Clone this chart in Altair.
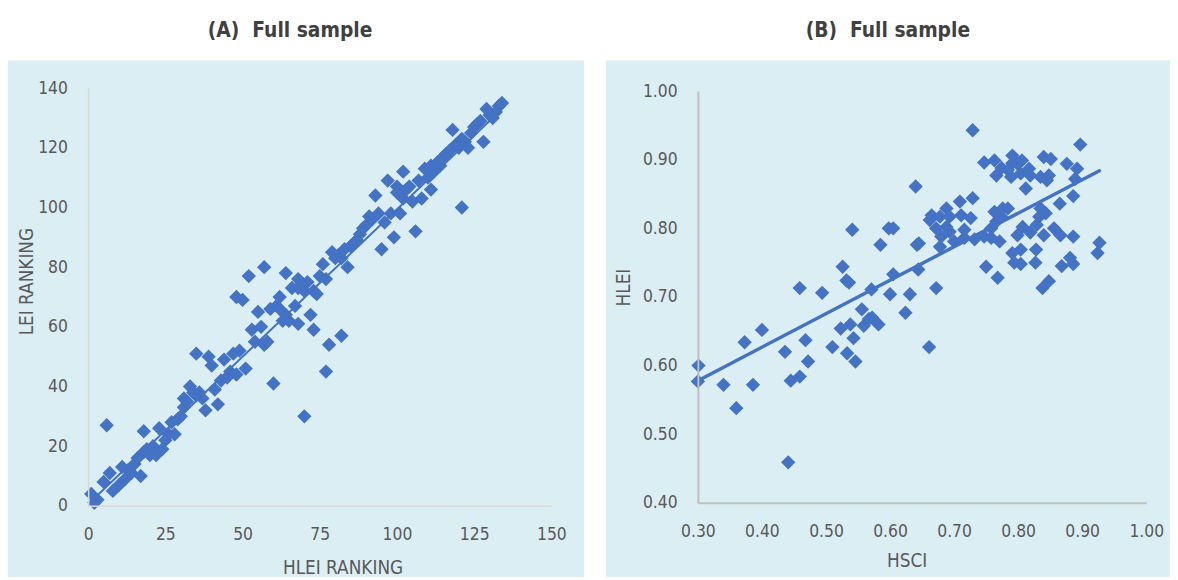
import altair as alt
import pandas as pd

# ---------------- Panel A data: HLEI ranking vs LEI ranking ----------------
a_hlei = [1, 2, 3, 5, 6, 7, 8, 10, 11, 12, 13, 14, 15, 16, 17, 18, 18, 19, 20, 21,
          22, 23, 24, 25, 26, 27, 28, 29, 30, 31, 31, 32, 33, 34, 35, 35, 36, 37, 38, 39,
          40, 41, 42, 43, 44, 45, 46, 47, 48, 48, 49, 50, 51, 52, 53, 54, 55, 56, 57, 57,
          58, 59, 60, 61, 62, 62, 63, 64, 64, 65, 66, 67, 68, 68, 68, 69, 70, 70, 71, 72,
          73, 73, 74, 75, 76, 77, 77, 78, 79, 80, 81, 82, 82, 83, 84, 85, 86, 87, 88, 89,
          90, 91, 92, 93, 94, 95, 96, 97, 98, 99, 100, 100, 101, 102, 102, 103, 104, 105, 106, 107,
          108, 109, 110, 111, 111, 112, 113, 114, 115, 116, 117, 118, 119, 120, 121, 121, 122, 123, 124, 125,
          126, 127, 128, 129, 130, 131, 132, 133, 134]
a_lei = [4, 1, 2, 8, 27, 11, 5, 7, 13, 9, 12, 11, 14, 16, 10, 25, 18, 19, 17, 20,
         17, 26, 19, 22, 24, 28, 24, 29, 30, 33, 36, 35, 40, 38, 51, 37, 38, 36, 32, 50,
         47, 39, 34, 42, 49, 43, 45, 51, 70, 44, 52, 69, 46, 77, 59, 55, 65, 60, 80, 54,
         55, 66, 41, 67, 66, 70, 62, 64, 78, 62, 73, 67, 73, 76, 61, 74, 30, 72, 75, 64,
         72, 59, 71, 77, 81, 45, 76, 54, 85, 83, 84, 57, 83, 86, 80, 87, 88, 89, 91, 93,
         94, 97, 96, 104, 98, 86, 95, 109, 98, 90, 107, 105, 98, 112, 103, 106, 107, 102, 92, 109,
         103, 113, 110, 106, 114, 112, 115, 114, 117, 118, 119, 126, 121, 120, 123, 100, 122, 120, 125, 127,
         128, 129, 122, 133, 131, 130, 132, 134, 135]

trendA_x = [1, 134]
trendA_y = [1.5, 133]

# ---------------- Panel B data: HSCI vs HLEI ----------------
b_hsci = [0.301, 0.300, 0.340, 0.360, 0.373, 0.386, 0.400, 0.436, 0.441, 0.445,
          0.459, 0.468, 0.472, 0.510, 0.523, 0.533, 0.538, 0.543, 0.546, 0.556,
          0.559, 0.567, 0.582, 0.572, 0.541, 0.585, 0.598, 0.526, 0.536, 0.532,
          0.459, 0.494, 0.571, 0.600, 0.605, 0.729, 0.897, 0.640, 0.605, 0.642,
          0.645, 0.644, 0.631, 0.672, 0.624, 0.665, 0.662, 0.678, 0.688, 0.693,
          0.688, 0.672, 0.680, 0.700, 0.678, 0.693, 0.709, 0.729, 0.711, 0.726,
          0.716, 0.732, 0.716, 0.747, 0.758, 0.766, 0.758, 0.771, 0.763, 0.776,
          0.784, 0.774, 0.750, 0.768, 0.747, 0.763, 0.766, 0.774, 0.791, 0.791,
          0.799, 0.806, 0.789, 0.804, 0.817, 0.819, 0.784, 0.812, 0.840, 0.851,
          0.835, 0.848, 0.845, 0.876, 0.892, 0.889, 0.886, 0.865, 0.835, 0.833,
          0.843, 0.807, 0.799, 0.819, 0.829, 0.840, 0.856, 0.866, 0.886, 0.804,
          0.791, 0.828, 0.794, 0.804, 0.827, 0.868, 0.881, 0.886, 0.838, 0.848,
          0.927, 0.924, 0.661]
b_hlei = [0.600, 0.577, 0.572, 0.538, 0.634, 0.572, 0.652, 0.620, 0.459, 0.578,
          0.584, 0.637, 0.606, 0.627, 0.654, 0.618, 0.660, 0.640, 0.606, 0.682,
          0.658, 0.668, 0.660, 0.670, 0.798, 0.776, 0.800, 0.744, 0.721, 0.724,
          0.713, 0.706, 0.711, 0.704, 0.733, 0.943, 0.922, 0.861, 0.800, 0.776,
          0.778, 0.740, 0.704, 0.713, 0.677, 0.819, 0.812, 0.817, 0.829, 0.817,
          0.802, 0.800, 0.788, 0.781, 0.773, 0.795, 0.839, 0.844, 0.819, 0.815,
          0.798, 0.784, 0.786, 0.788, 0.800, 0.810, 0.786, 0.781, 0.824, 0.829,
          0.829, 0.817, 0.744, 0.728, 0.896, 0.899, 0.877, 0.888, 0.906, 0.895,
          0.894, 0.899, 0.875, 0.880, 0.887, 0.877, 0.885, 0.858, 0.904, 0.901,
          0.875, 0.877, 0.870, 0.894, 0.887, 0.872, 0.847, 0.836, 0.829, 0.817,
          0.822, 0.802, 0.790, 0.794, 0.805, 0.790, 0.800, 0.790, 0.788, 0.769,
          0.764, 0.769, 0.750, 0.748, 0.750, 0.745, 0.757, 0.748, 0.713, 0.723,
          0.779, 0.764, 0.627]

trendB_x = [0.300, 0.927]
trendB_y = [0.578, 0.884]

FONT = "Liberation Sans Narrow, Arial Narrow, DejaVu Sans Condensed, sans-serif"
BLUE = "#4472C4"
BG = "#DAEEF3"
TXT = "#595959"


def panel(px, py, tx, ty, xdom, ydom, xvals, yvals, fmt, xtitle, ytitle,
          w, h, yrange, box, title, title_xy, xt_xy, yt_xy, dom_color, dom_w, line_w):
    pts = pd.DataFrame({"x": px, "y": py})
    tr = pd.DataFrame({"x": tx, "y": ty})
    one = alt.Data(values=[{"a": 1}])
    l, r, t, b = box
    top_white = alt.Chart(one).mark_rect(color="white").encode(
        x=alt.value(l), x2=alt.value(r), y=alt.value(t - 50), y2=alt.value(t))
    bg = alt.Chart(one).mark_rect(color=BG).encode(
        x=alt.value(l), x2=alt.value(r), y=alt.value(t), y2=alt.value(b))
    xaxis = alt.Axis(values=xvals, format=fmt, title=xtitle, grid=False, ticks=False, tickSize=0,
                     domainColor=dom_color, domainWidth=dom_w, labelFont=FONT, labelFontSize=17.5,
                     labelColor=TXT, labelPadding=20, labelFlush=False, labelOverlap=False,
                     titleFont=FONT, titleFontSize=19, titleFontWeight="normal", titleColor=TXT,
                     titleX=xt_xy[0], titleY=xt_xy[1], titleBaseline="middle", zindex=1)
    yaxis = alt.Axis(values=yvals, format=fmt, title=ytitle, grid=False, ticks=False, tickSize=0,
                     domainColor=dom_color, domainWidth=dom_w, labelFont=FONT, labelFontSize=17.5,
                     labelColor=TXT, labelPadding=21, labelFlush=False, labelOverlap=False,
                     titleFont=FONT, titleFontSize=19, titleFontWeight="normal", titleColor=TXT,
                     titleX=yt_xy[0], titleY=yt_xy[1], titleBaseline="middle", zindex=1)
    xs = alt.Scale(domain=xdom, nice=False, zero=False)
    ys = alt.Scale(domain=ydom, nice=False, zero=False, range=yrange)
    points = alt.Chart(pts).mark_point(shape="diamond", filled=True, size=210,
                                       color=BLUE, opacity=1).encode(
        x=alt.X("x:Q", scale=xs, axis=xaxis),
        y=alt.Y("y:Q", scale=ys, axis=yaxis))
    trend = alt.Chart(tr).mark_line(color=BLUE, strokeWidth=line_w, strokeCap="round").encode(
        x=alt.X("x:Q", scale=xs), y=alt.Y("y:Q", scale=ys))
    ttl = alt.Chart(one).mark_text(font=FONT, fontSize=21, fontWeight="bold", color="#404040",
                                   align="center", baseline="middle").encode(
        x=alt.value(title_xy[0]), y=alt.value(title_xy[1]), text=alt.value(title))
    return alt.layer(top_white, bg, points, trend, ttl).properties(width=w, height=h)


chartA = panel(a_hlei, a_lei, trendA_x, trendA_y, [0, 150], [0, 140],
               [0, 25, 50, 75, 100, 125, 150], [0, 20, 40, 60, 80, 100, 120, 140], "d",
               "HLEI RANKING", "LEI RANKING", 468, 419, [419, -3],
               (-81, 501, -31, 491), "(A)\u00a0 Full sample", (204, -61),
               (257, 62), (-62, 192), "#D9D9D9", 1.5, 2)

chartB = panel(b_hsci, b_hlei, trendB_x, trendB_y, [0.3, 1.0], [0.4, 1.0],
               [0.3, 0.4, 0.5, 0.6, 0.7, 0.8, 0.9, 1.0], [0.4, 0.5, 0.6, 0.7, 0.8, 0.9, 1.0], ".2f",
               "HSCI", "HLEI", 453, 416, [416, 0],
               (-93, 477, -31, 491), "(B)\u00a0 Full sample", (192, -61),
               (211, 58), (-75, 198), "#BFBFBF", 2, 3.5)

chart = alt.hconcat(chartA, chartB, spacing=22).properties(
    padding=0, background="white"
).configure_view(strokeWidth=0)

chart.save("out.html", embed_options={"renderer": "svg", "actions": False})
